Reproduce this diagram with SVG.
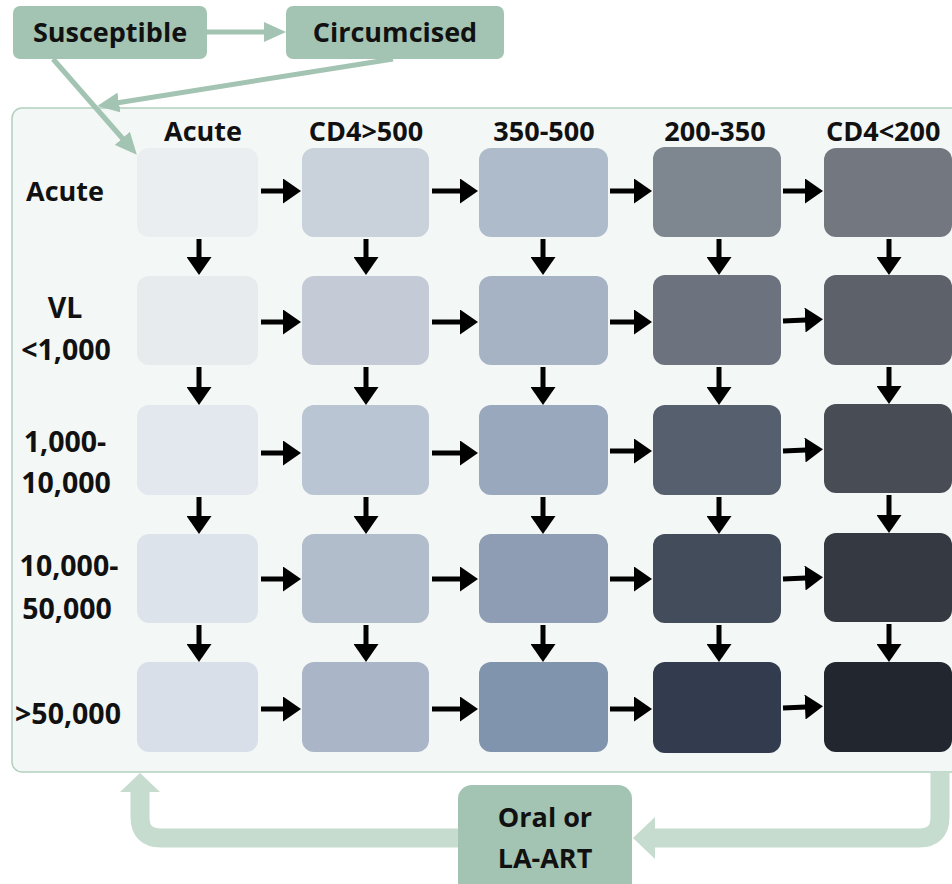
<svg xmlns="http://www.w3.org/2000/svg" width="952" height="884" viewBox="0 0 952 884">
<style>
.t{font-family:"Open Sans","Liberation Sans",sans-serif;font-weight:700;font-size:27px;fill:#111;text-anchor:middle}
.n{font-size:28.5px}
.gbox{fill:#a3c4b2}
.gl{stroke:#a3c4b2;stroke-width:5;fill:none}
.blk{stroke:#000;stroke-width:5;fill:none}
.loop{stroke:#c6dccf;stroke-width:19;fill:none}
</style>
<defs>
<marker id="ah" markerWidth="18" markerHeight="25" refX="1" refY="12.5" orient="auto" markerUnits="userSpaceOnUse" viewBox="0 0 18 25"><path d="M0,0 L18,12.5 L0,25 z" fill="#000"/></marker>
<marker id="gh" markerWidth="22" markerHeight="20" refX="1" refY="10" orient="auto" markerUnits="userSpaceOnUse" viewBox="0 0 22 20"><path d="M0,0 L22,10 L0,20 z" fill="#a3c4b2"/></marker>
</defs>

<g id="frame"><rect x="12" y="108" width="960" height="664" rx="10" fill="#f3f7f5" stroke="#b3d0c0" stroke-width="1.5"/></g>

<g id="susceptible"><rect class="gbox" x="13" y="6" width="194" height="53" rx="7"/><text class="t" x="110" y="42">Susceptible</text></g>
<g id="circumcised"><rect class="gbox" x="286" y="6" width="218" height="53" rx="7"/><text class="t" x="395" y="42">Circumcised</text></g>
<g id="oral-la-art"><rect class="gbox" x="458" y="785" width="174" height="112" rx="14"/><text class="t" x="545" y="827">Oral or</text><text class="t" x="545" y="868">LA-ART</text></g>

<g id="headers">
<text class="t" x="203" y="141">Acute</text>
<text class="t" x="366" y="141">CD4&gt;500</text>
<text class="t" x="544" y="141">350-500</text>
<text class="t" x="715" y="141">200-350</text>
<text class="t" x="826" y="141" style="text-anchor:start">CD4&lt;200</text>
<text class="t" x="65" y="201">Acute</text>
<text class="t n" x="65" y="318">VL</text>
<text class="t n" x="66" y="360">&lt;1,000</text>
<text class="t n" x="65" y="452">1,000-</text>
<text class="t n" x="66" y="493">10,000</text>
<text class="t n" x="69" y="576">10,000-</text>
<text class="t n" x="67" y="619">50,000</text>
<text class="t n" x="68" y="724">&gt;50,000</text>
</g>

<g id="cells">
<g id="r1">
<rect id="c11" x="137" y="148" width="121" height="89" rx="12" fill="#eaeef1"/>
<rect id="c12" x="302" y="148" width="127" height="89" rx="12" fill="#c9d1db"/>
<rect id="c13" x="479" y="148" width="129" height="89" rx="12" fill="#aebbca"/>
<rect id="c14" x="653" y="147" width="128" height="90" rx="12" fill="#7e8690"/>
<rect id="c15" x="824" y="148" width="128" height="89" rx="12" fill="#737880"/>
</g>
<g id="r2">
<rect id="c21" x="137" y="276" width="121" height="89" rx="12" fill="#e7ebee"/>
<rect id="c22" x="302" y="276" width="127" height="89" rx="12" fill="#c4cbd7"/>
<rect id="c23" x="479" y="276" width="129" height="89" rx="12" fill="#a6b3c5"/>
<rect id="c24" x="653" y="275" width="128" height="90" rx="12" fill="#6c737f"/>
<rect id="c25" x="824" y="275" width="128" height="90" rx="12" fill="#5d6169"/>
</g>
<g id="r3">
<rect id="c31" x="137" y="405" width="121" height="90" rx="12" fill="#e3e7ee"/>
<rect id="c32" x="302" y="405" width="127" height="90" rx="12" fill="#bac5d3"/>
<rect id="c33" x="479" y="405" width="129" height="90" rx="12" fill="#9aa8be"/>
<rect id="c34" x="653" y="405" width="128" height="90" rx="12" fill="#565f6e"/>
<rect id="c35" x="824" y="404" width="128" height="89" rx="12" fill="#484d55"/>
</g>
<g id="r4">
<rect id="c41" x="137" y="534" width="121" height="89" rx="12" fill="#dde3ea"/>
<rect id="c42" x="302" y="534" width="127" height="89" rx="12" fill="#b2bdcc"/>
<rect id="c43" x="479" y="534" width="129" height="89" rx="12" fill="#8e9db4"/>
<rect id="c44" x="653" y="534" width="128" height="89" rx="12" fill="#434c5b"/>
<rect id="c45" x="824" y="533" width="128" height="89" rx="12" fill="#353941"/>
</g>
<g id="r5">
<rect id="c51" x="137" y="662" width="121" height="90" rx="12" fill="#d8dfe8"/>
<rect id="c52" x="302" y="662" width="127" height="90" rx="12" fill="#aab5c7"/>
<rect id="c53" x="479" y="662" width="129" height="90" rx="12" fill="#8194ae"/>
<rect id="c54" x="653" y="662" width="128" height="91" rx="12" fill="#323c4e"/>
<rect id="c55" x="824" y="662" width="128" height="90" rx="12" fill="#22262f"/>
</g>
</g>

<g id="connectors">
<line class="gl" x1="207" y1="32" x2="265" y2="32" marker-end="url(#gh)"/>
<line class="gl" x1="393" y1="59" x2="118" y2="102.7" marker-end="url(#gh)"/>
<line class="gl" x1="53" y1="59" x2="123" y2="139" marker-end="url(#gh)"/>

<path class="loop" d="M940,772 V817 Q940,838 919,838 H655"/>
<polygon points="655,817 655,859 633,838" fill="#c6dccf"/>
<path class="loop" d="M458,838 H161 Q140,838 140,817 V791"/>
<polygon points="120,792 160,792 140,773" fill="#c6dccf"/>

<g id="h-arrows">
<line class="blk" x1="261" y1="191" x2="284" y2="191" marker-end="url(#ah)"/>
<line class="blk" x1="432" y1="191" x2="461" y2="191" marker-end="url(#ah)"/>
<line class="blk" x1="610" y1="191" x2="635" y2="191" marker-end="url(#ah)"/>
<line class="blk" x1="783" y1="191" x2="806" y2="191" marker-end="url(#ah)"/>

<line class="blk" x1="261" y1="322" x2="284" y2="322" marker-end="url(#ah)"/>
<line class="blk" x1="432" y1="322" x2="461" y2="322" marker-end="url(#ah)"/>
<line class="blk" x1="610" y1="322" x2="635" y2="322" marker-end="url(#ah)"/>
<line class="blk" x1="783" y1="321" x2="806" y2="320" marker-end="url(#ah)"/>

<line class="blk" x1="261" y1="453" x2="284" y2="453" marker-end="url(#ah)"/>
<line class="blk" x1="432" y1="453" x2="461" y2="453" marker-end="url(#ah)"/>
<line class="blk" x1="610" y1="451" x2="635" y2="451" marker-end="url(#ah)"/>
<line class="blk" x1="783" y1="451" x2="806" y2="450" marker-end="url(#ah)"/>

<line class="blk" x1="261" y1="579" x2="284" y2="579" marker-end="url(#ah)"/>
<line class="blk" x1="432" y1="579" x2="461" y2="579" marker-end="url(#ah)"/>
<line class="blk" x1="610" y1="579" x2="635" y2="579" marker-end="url(#ah)"/>
<line class="blk" x1="783" y1="579" x2="806" y2="578" marker-end="url(#ah)"/>

<line class="blk" x1="261" y1="709" x2="284" y2="709" marker-end="url(#ah)"/>
<line class="blk" x1="432" y1="709" x2="461" y2="709" marker-end="url(#ah)"/>
<line class="blk" x1="610" y1="709" x2="635" y2="709" marker-end="url(#ah)"/>
<line class="blk" x1="783" y1="708" x2="806" y2="707" marker-end="url(#ah)"/>
</g>

<g id="v-arrows">
<line class="blk" x1="199" y1="239" x2="199" y2="258" marker-end="url(#ah)"/>
<line class="blk" x1="366" y1="239" x2="366" y2="258" marker-end="url(#ah)"/>
<line class="blk" x1="543" y1="239" x2="543" y2="258" marker-end="url(#ah)"/>
<line class="blk" x1="719" y1="239" x2="719" y2="258" marker-end="url(#ah)"/>
<line class="blk" x1="889" y1="239" x2="889" y2="258" marker-end="url(#ah)"/>

<line class="blk" x1="199" y1="367" x2="199" y2="388" marker-end="url(#ah)"/>
<line class="blk" x1="366" y1="367" x2="366" y2="388" marker-end="url(#ah)"/>
<line class="blk" x1="543" y1="367" x2="543" y2="388" marker-end="url(#ah)"/>
<line class="blk" x1="719" y1="367" x2="719" y2="388" marker-end="url(#ah)"/>
<line class="blk" x1="889" y1="367" x2="889" y2="387" marker-end="url(#ah)"/>

<line class="blk" x1="199" y1="497" x2="199" y2="517" marker-end="url(#ah)"/>
<line class="blk" x1="366" y1="497" x2="366" y2="517" marker-end="url(#ah)"/>
<line class="blk" x1="543" y1="497" x2="543" y2="517" marker-end="url(#ah)"/>
<line class="blk" x1="719" y1="497" x2="719" y2="517" marker-end="url(#ah)"/>
<line class="blk" x1="889" y1="495" x2="889" y2="516" marker-end="url(#ah)"/>

<line class="blk" x1="199" y1="625" x2="199" y2="645" marker-end="url(#ah)"/>
<line class="blk" x1="366" y1="625" x2="366" y2="645" marker-end="url(#ah)"/>
<line class="blk" x1="543" y1="625" x2="543" y2="645" marker-end="url(#ah)"/>
<line class="blk" x1="719" y1="625" x2="719" y2="645" marker-end="url(#ah)"/>
<line class="blk" x1="889" y1="624" x2="889" y2="645" marker-end="url(#ah)"/>
</g>
</g>
</svg>
